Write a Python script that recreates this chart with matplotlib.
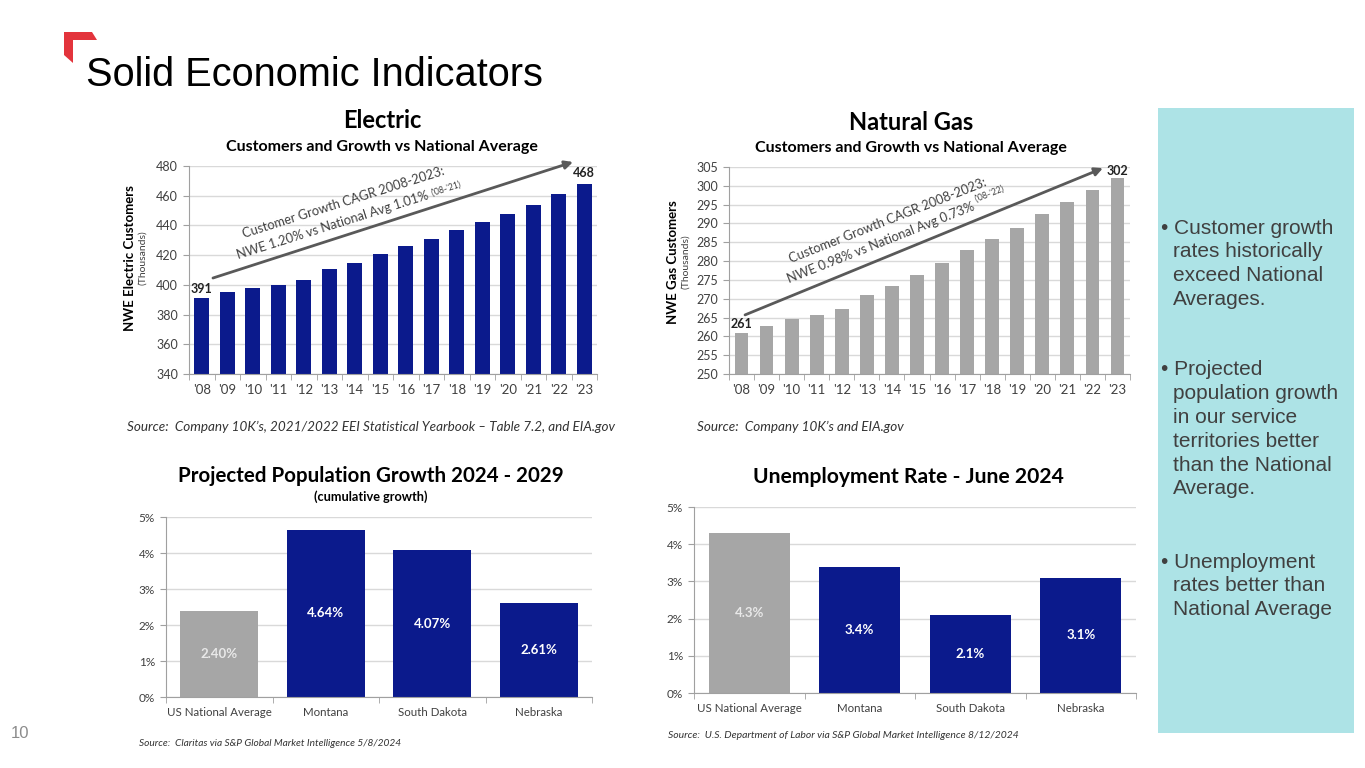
import numpy as np
import matplotlib.pyplot as plt
from matplotlib.patches import Polygon, Rectangle

# ---- data ----
years = ["'08", "'09", "'10", "'11", "'12", "'13", "'14", "'15",
         "'16", "'17", "'18", "'19", "'20", "'21", "'22", "'23"]
electric = [391, 395, 398, 400, 403, 411, 415, 421, 426, 431, 437, 442, 448, 454, 461, 468]
gas = [261, 262.8, 264.6, 265.8, 267.3, 271.1, 273.4, 276.3,
       279.5, 282.9, 285.9, 288.8, 292.4, 295.6, 298.9, 302]
regions = ["US National Average", "Montana", "South Dakota", "Nebraska"]
pop_growth = [2.40, 4.64, 4.07, 2.61]
pop_labels = ["2.40%", "4.64%", "4.07%", "2.61%"]
unemp = [4.3, 3.4, 2.1, 3.1]
unemp_labels = ["4.3%", "3.4%", "2.1%", "3.1%"]
bullets = [
    ["Customer growth", "rates historically", "exceed National", "Averages."],
    ["Projected", "population growth", "in our service", "territories better",
     "than the National", "Average."],
    ["Unemployment", "rates better than", "National Average"],
]

NAVY = "#0b1a8c"
GRAY = "#a6a6a6"
TXT = "#404040"
GRID = "#d9d9d9"
CF = "Lato"

W, H = 1365, 768
fig = plt.figure(figsize=(W / 100, H / 100), dpi=100)


def fx(x, y):
    return x / W, 1 - y / H


def box(l, t, r, b):
    return [l / W, 1 - b / H, (r - l) / W, (b - t) / H]


def style(ax, n, ylim, yticks, yfmt, tickfs=9):
    ax.set_xlim(-0.5, n - 0.5)
    ax.set_ylim(*ylim)
    ax.set_yticks(yticks)
    ax.set_yticklabels([yfmt(v) for v in yticks], fontsize=tickfs, color=TXT, family=CF)
    ax.set_xticks(np.arange(n))
    ax.set_xticks(np.arange(n + 1) - 0.5, minor=True)
    ax.tick_params(axis="x", which="major", length=0, pad=7)
    ax.tick_params(axis="x", which="minor", length=4, color="#a0a0a0")
    ax.tick_params(axis="y", length=4, color="#a0a0a0", pad=4)
    ax.yaxis.grid(True, color=GRID, lw=1)
    ax.set_axisbelow(True)
    for s in ("top", "right"):
        ax.spines[s].set_visible(False)
    for s in ("left", "bottom"):
        ax.spines[s].set_color("#a0a0a0")


# ---- page title / logo ----
logo = [(64, 32), (92, 32), (97, 40), (73, 40), (73, 63), (64, 55)]
fig.patches.append(Polygon([fx(*p) for p in logo], closed=True, transform=fig.transFigure,
                           color="#e3343c", lw=0))
fig.text(*fx(86, 86), "Solid Economic Indicators", fontsize=28.6, family="Liberation Sans",
         color="black", va="baseline")
fig.text(*fx(20, 733), "10", fontsize=12, family="Liberation Sans", color="#8c8c8c",
         ha="center", va="center")

# ---- side panel ----
fig.patches.append(Rectangle(fx(1158, 733), 196 / W, 625 / H, transform=fig.transFigure,
                             color="#ade3e6", lw=0))
starts = [228, 370, 562]
for lines, y0 in zip(bullets, starts):
    for i, ln in enumerate(lines):
        y = y0 + i * 23.8
        if i == 0:
            fig.text(*fx(1161, y), "\u2022 " + ln, fontsize=15, family="Liberation Sans",
                     color=TXT, va="center")
        else:
            fig.text(*fx(1173, y), ln, fontsize=15, family="Liberation Sans", color=TXT, va="center")

# ---- Electric ----
ax1 = fig.add_axes(box(189, 166, 597, 374))
x = np.arange(len(years))
ax1.bar(x, electric, width=0.58, color=NAVY)
style(ax1, len(years), (340, 480), np.arange(340, 481, 20), lambda v: f"{v:d}")
ax1.set_xticklabels(years, fontsize=9.5, color=TXT, family=CF)
ax1.text(0, electric[0] + 2, f"{electric[0]}", ha="center", va="bottom", fontsize=9,
         weight="bold", color="#222", family=CF)
ax1.text(15, electric[-1] + 3, f"{electric[-1]}", ha="center", va="bottom", fontsize=9,
         weight="bold", color="#222", family=CF)
ax1.annotate("", xy=(14.56, 482.7), xytext=(0.44, 404.6), annotation_clip=False,
             arrowprops=dict(arrowstyle="-|>", color="#595959", lw=2, mutation_scale=12,
                             shrinkA=0, shrinkB=0))
fig.text(*fx(382, 121), "Electric", fontsize=17, weight="bold", family=CF, ha="center", va="center")
fig.text(*fx(382, 147), "Customers and Growth vs National Average", fontsize=11.5, weight="bold",
         family=CF, ha="center", va="center")
fig.text(*fx(130, 258), "NWE Electric Customers", rotation=90, fontsize=9.5, weight="bold",
         family=CF, ha="center", va="center")
fig.text(*fx(143, 258), "(Thousands)", rotation=90, fontsize=7.5, family=CF, color=TXT,
         ha="center", va="center")
fig.text(*fx(343, 202), "Customer Growth CAGR 2008-2023:", rotation=17.5, fontsize=9.3,
         family=CF, color=TXT, ha="center", va="center", rotation_mode="anchor")
fig.text(*fx(333, 225), "NWE 1.20% vs National Avg 1.01%", rotation=17.5, fontsize=9.3,
         family=CF, color=TXT, ha="center", va="center", rotation_mode="anchor")
fig.text(*fx(446, 189), "('08-'21)", rotation=17.5, fontsize=6.2, family=CF, color=TXT,
         ha="center", va="center", rotation_mode="anchor")
fig.text(*fx(127, 427), "Source:  Company 10K\u2019s, 2021/2022 EEI Statistical Yearbook \u2013 Table 7.2, and EIA.gov",
         fontsize=9.7, style="italic", family=CF, color="#333", va="center")

# ---- Natural gas ----
ax2 = fig.add_axes(box(729, 167, 1130, 374))
ax2.bar(x, gas, width=0.55, color=GRAY)
style(ax2, len(years), (250, 305), np.arange(250, 306, 5), lambda v: f"{v:d}")
ax2.set_xticklabels(years, fontsize=9.5, color=TXT, family=CF)
ax2.text(0, gas[0] + 0.6, f"{gas[0]:.0f}", ha="center", va="bottom", fontsize=9,
         weight="bold", color="#222", family=CF)
ax2.text(15, gas[-1] + 0.4, f"{gas[-1]:.0f}", ha="center", va="bottom", fontsize=9,
         weight="bold", color="#222", family=CF)
ax2.annotate("", xy=(14.42, 304.7), xytext=(0.14, 265.7), annotation_clip=False,
             arrowprops=dict(arrowstyle="-|>", color="#595959", lw=2, mutation_scale=12,
                             shrinkA=0, shrinkB=0))
fig.text(*fx(911, 122), "Natural Gas", fontsize=17, weight="bold", family=CF, ha="center", va="center")
fig.text(*fx(911, 148), "Customers and Growth vs National Average", fontsize=11.5, weight="bold",
         family=CF, ha="center", va="center")
fig.text(*fx(673, 262), "NWE Gas Customers", rotation=90, fontsize=9.5, weight="bold",
         family=CF, ha="center", va="center")
fig.text(*fx(686, 262), "(Thousands)", rotation=90, fontsize=7.5, family=CF, color=TXT,
         ha="center", va="center")
fig.text(*fx(888, 221), "Customer Growth CAGR 2008-2023:", rotation=21.5, fontsize=9.3,
         family=CF, color=TXT, ha="center", va="center", rotation_mode="anchor")
fig.text(*fx(881, 243), "NWE 0.98% vs National Avg 0.73%", rotation=21.5, fontsize=9.3,
         family=CF, color=TXT, ha="center", va="center", rotation_mode="anchor")
fig.text(*fx(990, 194), "('08-'22)", rotation=21.5, fontsize=6.2, family=CF, color=TXT,
         ha="center", va="center", rotation_mode="anchor")
fig.text(*fx(697, 427), "Source:  Company 10K\u2019s and EIA.gov", fontsize=9.7, style="italic",
         family=CF, color="#333", va="center")

# ---- Population growth ----
ax3 = fig.add_axes(box(166, 517, 592, 697))
xr = np.arange(len(regions))
cols = [GRAY] + [NAVY] * 3
ax3.bar(xr, pop_growth, width=0.73, color=cols)
style(ax3, len(regions), (0, 5), np.arange(0, 6), lambda v: f"{v:d}%", tickfs=8.5)
ax3.set_xticklabels(regions, fontsize=8.3, color=TXT, family=CF)
for i, (v, lab) in enumerate(zip(pop_growth, pop_labels)):
    ax3.text(i, v / 2, lab, ha="center", va="center", fontsize=9.5, weight="bold",
             color="#e8e8e8" if i == 0 else "white", family=CF)
fig.text(*fx(371, 476), "Projected Population Growth 2024 - 2029", fontsize=14.8, weight="bold",
         family=CF, ha="center", va="center")
fig.text(*fx(371, 497), "(cumulative growth)", fontsize=9.2, weight="bold", family=CF,
         ha="center", va="center")
fig.text(*fx(139, 743), "Source:  Claritas via S&P Global Market Intelligence 5/8/2024",
         fontsize=7.3, style="italic", family=CF, color="#333", va="center")

# ---- Unemployment ----
ax4 = fig.add_axes(box(694, 507, 1136, 693))
ax4.bar(xr, unemp, width=0.73, color=cols)
style(ax4, len(regions), (0, 5), np.arange(0, 6), lambda v: f"{v:d}%", tickfs=8.5)
ax4.set_xticklabels(regions, fontsize=8.3, color=TXT, family=CF)
for i, (v, lab) in enumerate(zip(unemp, unemp_labels)):
    ax4.text(i, v / 2, lab, ha="center", va="center", fontsize=9.5, weight="bold",
             color="#e8e8e8" if i == 0 else "white", family=CF)
fig.text(*fx(908, 477), "Unemployment Rate - June 2024", fontsize=15.2, weight="bold",
         family=CF, ha="center", va="center")
fig.text(*fx(668, 736), "Source:  U.S. Department of Labor via S&P Global Market Intelligence 8/12/2024",
         fontsize=7.5, style="italic", family=CF, color="#333", va="center")

fig.savefig("out.png", dpi=100, facecolor="white")
